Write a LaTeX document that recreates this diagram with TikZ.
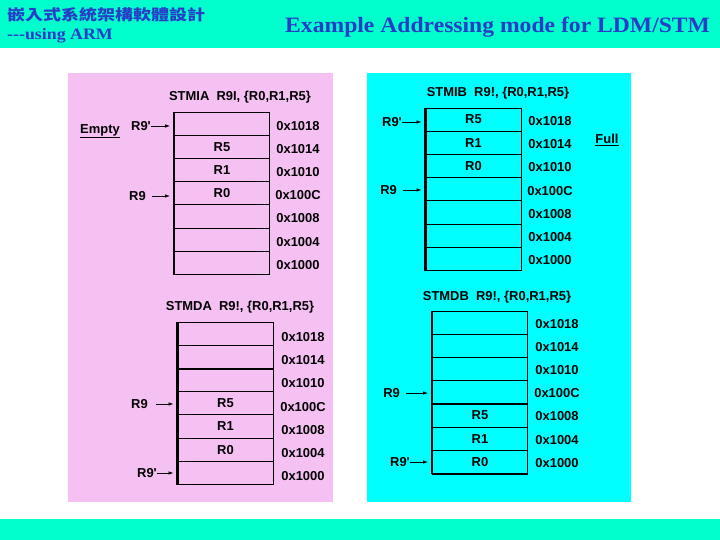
\documentclass[tikz,border=0pt]{standalone}
\usepackage{graphicx}
\usepackage{fontspec}
\setmainfont{Liberation Serif}
\newfontfamily\arialf{Liberation Sans}
\newfontfamily\cjkf{Noto Sans CJK TC}
\usetikzlibrary{arrows.meta}
\definecolor{headbg}{RGB}{0,255,204}
\definecolor{pinkbg}{RGB}{245,192,242}
\definecolor{cyanbg}{RGB}{0,255,255}
\definecolor{headblue}{RGB}{40,60,200}
\tikzset{
  pfont/.style={font=\arialf\bfseries\fontsize{13}{15}\selectfont, text=black},
  cellbox/.style={pfont, draw=black, line width=0.9bp, minimum width=95bp, minimum height=23.2bp, inner sep=0pt},
  addr/.style={pfont, inner sep=0pt},
  ptitle/.style={pfont, inner sep=0pt},
  reglbl/.style={pfont, inner sep=0pt, anchor=east},
  ptr/.style={-{Latex[length=5bp,width=3.5bp]}, line width=0.8bp, black, shorten >=4bp},
  leftedge/.style={line width=2.6bp, black},
  heavyline/.style={line width=1.9bp, black},
}
\begin{document}
\begin{tikzpicture}[x=1bp, y=-1bp]
\useasboundingbox (0,0) rectangle (720,540);
% bands
\fill[headbg] (0,0) rectangle (720,48.5);
\fill[headbg] (0,519) rectangle (720,540);
\node[text=headblue, inner sep=0pt, anchor=west] (hcjk) at (7,15) {\resizebox{198bp}{13bp}{\cjkf\bfseries 嵌入式系統架構軟體設計}};
\node[text=headblue, inner sep=0pt, anchor=base west] (hsub) at (7,40) {\scalebox{1.12}[1]{\bfseries\fontsize{16}{18}\selectfont -{}-{}-using ARM}};
\node[text=headblue, inner sep=0pt, anchor=base west] (htitle) at (285,32.3) {\scalebox{1.078}[1]{\bfseries\fontsize{22}{24}\selectfont Example Addressing mode for LDM/STM}};
% panels
\fill[pinkbg] (68,73) rectangle (333,502);
\fill[cyanbg] (367,73) rectangle (631,502);

% ---------- Panel 1: STMIA ----------
\node[ptitle] (p1t) at (240,97) {STMIA\ \ R9I, \{R0,R1,R5\}};
\foreach \i/\t/\a in {1//0x1018, 2/R5/0x1014, 3/R1/0x1010, 4/R0/0x100C, 5//0x1008, 6//0x1004, 7//0x1000}{
  \node[cellbox] (p1c\i) at (222, {112+23.2*(\i-0.5)}) {\t};
  \node[addr] (p1a\i) at (298, {112+23.2*(\i-0.5)+2}) {\a};
}
\draw[leftedge] (p1c1.north west) -- (p1c7.south west);
\node[reglbl] (p1r9p) at (151,126) {R9'};
\node[reglbl] (p1r9) at (146,196) {R9};
\draw[ptr] (p1r9p.east) -- (p1r9p.east -| p1c1.west);
\draw[ptr, shorten <=6bp] (p1r9.east) -- (p1r9.east -| p1c4.west);
\node[pfont, inner sep=0pt] (p1empty) at (100,131) {\underline{Empty}};

% ---------- Panel 2: STMIB ----------
\node[ptitle] (p2t) at (498,93) {STMIB\ \ R9!, \{R0,R1,R5\}};
\foreach \i/\t/\a in {1/R5/0x1018, 2/R1/0x1014, 3/R0/0x1010, 4//0x100C, 5//0x1008, 6//0x1004, 7//0x1000}{
  \node[cellbox] (p2c\i) at (473.5, {108+23.2*(\i-0.5)}) {\t};
  \node[addr] (p2a\i) at (550, {108+23.2*(\i-0.5)+1.5}) {\a};
}
\draw[leftedge] (p2c1.north west) -- (p2c7.south west);
\node[reglbl] (p2r9p) at (402,122) {R9'};
\node[reglbl] (p2r9) at (397,190) {R9};
\draw[ptr] (p2r9p.east) -- (p2r9p.east -| p2c1.west);
\draw[ptr, shorten <=6bp] (p2r9.east) -- (p2r9.east -| p2c4.west);
\node[pfont, inner sep=0pt] (p2full) at (607,140) {\underline{Full}};

% ---------- Panel 3: STMDA ----------
\node[ptitle] (p3t) at (240,307) {STMDA\ \ R9!, \{R0,R1,R5\}};
\foreach \i/\t/\a in {1//0x1018, 2//0x1014, 3//0x1010, 4/R5/0x100C, 5/R1/0x1008, 6/R0/0x1004, 7//0x1000}{
  \node[cellbox] (p3c\i) at (225.5, {322+23.2*(\i-0.5)}) {\t};
  \node[addr] (p3a\i) at (303, {322+23.2*(\i-0.5)+3.5}) {\a};
}
\draw[leftedge] (p3c1.north west) -- (p3c7.south west);
\draw[heavyline] (p3c2.south west) -- (p3c2.south east);
\node[reglbl] (p3r9) at (148,404) {R9};
\node[reglbl] (p3r9p) at (157,473) {R9'};
\draw[ptr, shorten <=8bp] (p3r9.east) -- (p3r9.east -| p3c4.west);
\draw[ptr] (p3r9p.east) -- (p3r9p.east -| p3c7.west);

% ---------- Panel 4: STMDB ----------
\node[ptitle] (p4t) at (497,297) {STMDB\ \ R9!, \{R0,R1,R5\}};
\foreach \i/\t/\a in {1//0x1018, 2//0x1014, 3//0x1010, 4//0x100C, 5/R5/0x1008, 6/R1/0x1004, 7/R0/0x1000}{
  \node[cellbox] (p4c\i) at (480, {311.5+23.1*(\i-0.5)}) {\t};
  \node[addr] (p4a\i) at (557, {311.5+23.1*(\i-0.5)+1}) {\a};
}
\draw[leftedge] (p4c1.north west) -- (p4c7.south west);
\draw[heavyline] (p4c7.south west) -- (p4c7.south east);
\node[reglbl] (p4r9) at (400,393) {R9};
\node[reglbl] (p4r9p) at (410,462) {R9'};
\draw[ptr, shorten <=6bp] (p4r9.east) -- (p4r9.east -| p4c4.west);
\draw[ptr] (p4r9p.east) -- (p4r9p.east -| p4c7.west);
\end{tikzpicture}
\end{document}
